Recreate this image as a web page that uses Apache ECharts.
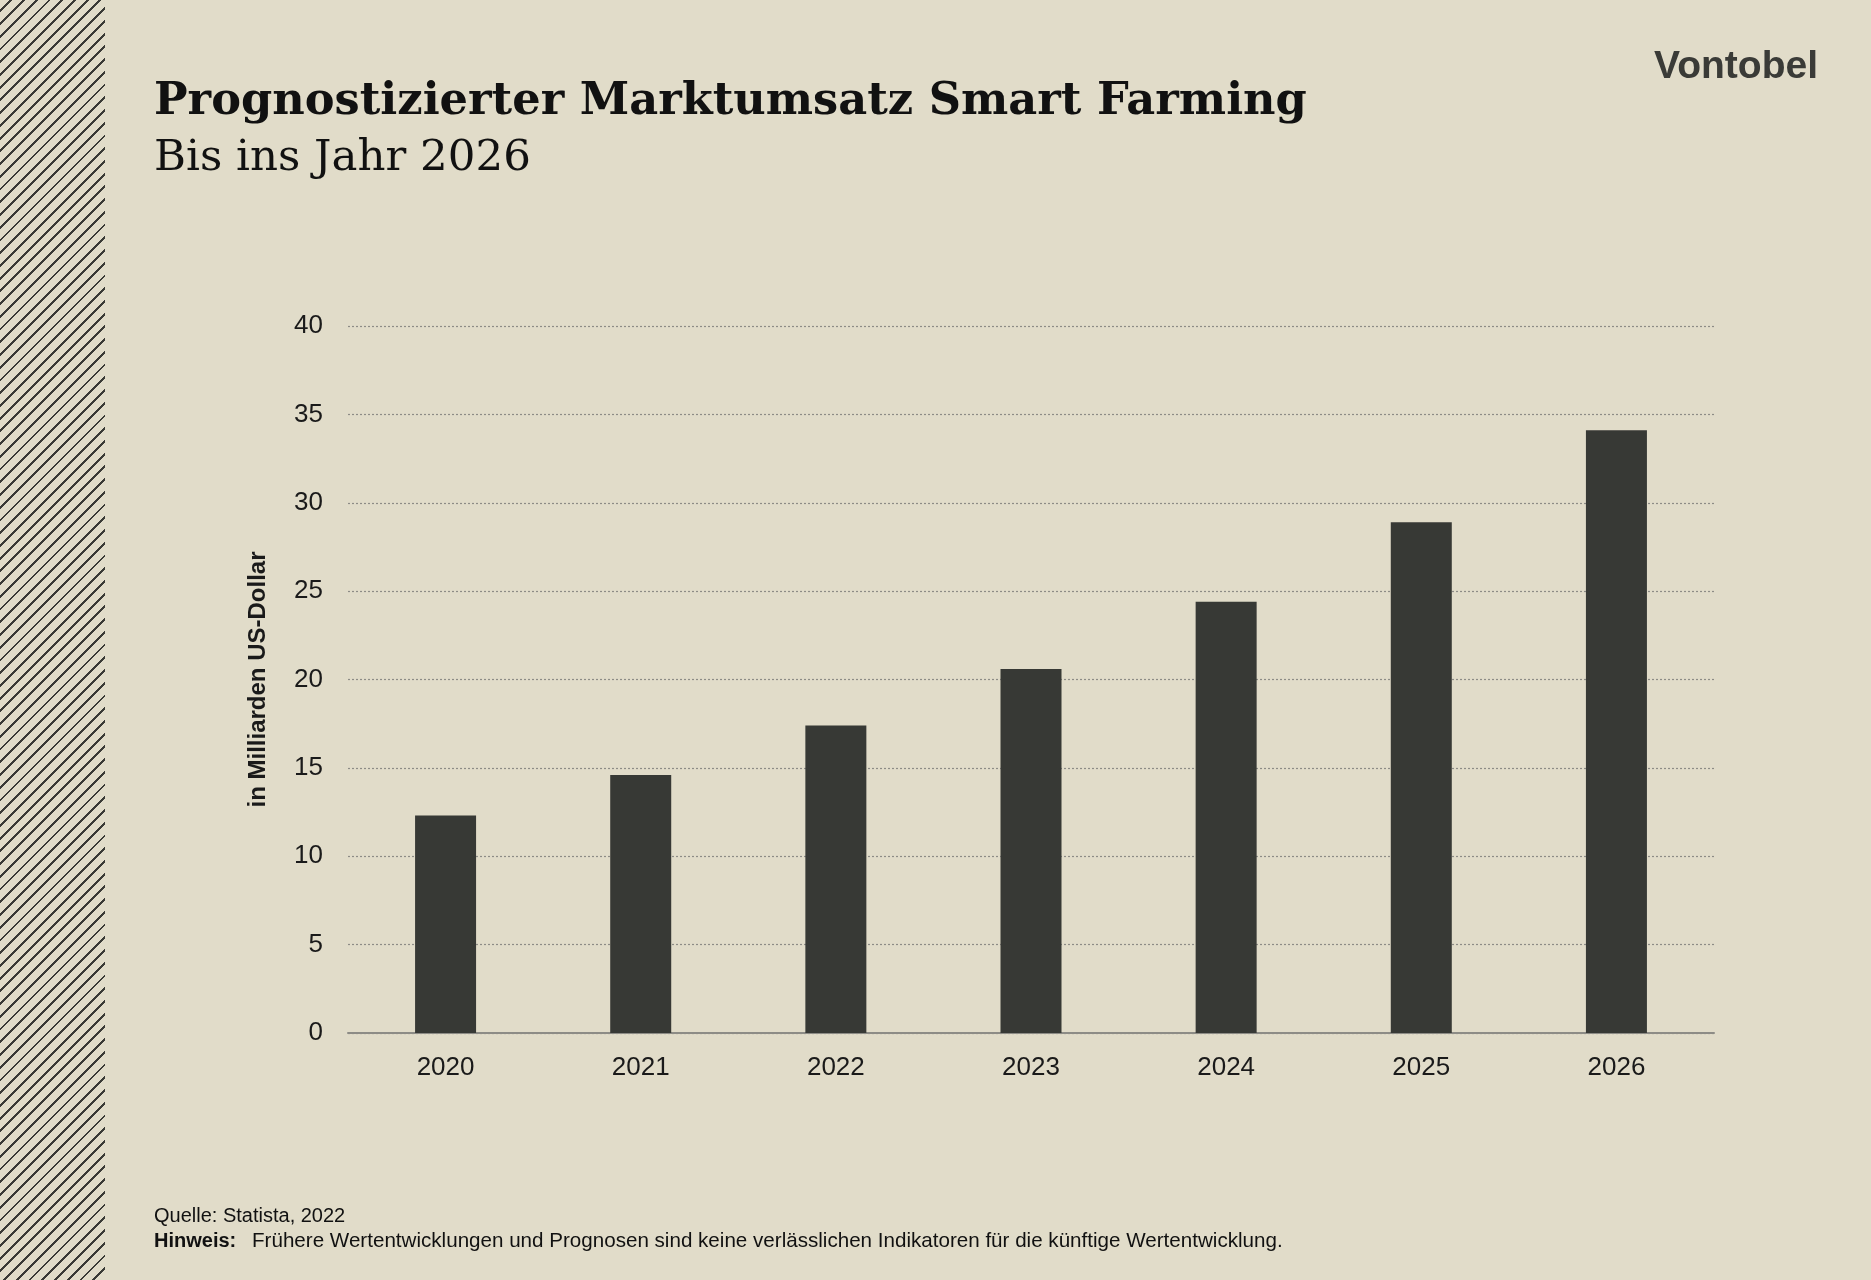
<!DOCTYPE html>
<html><head><meta charset="utf-8">
<script src="https://cdn.jsdelivr.net/npm/echarts@6/dist/echarts.min.js"></script>
<style>
html,body{margin:0;padding:0;width:1871px;height:1280px;background:#e1dcc9;overflow:hidden}
#stripes{position:absolute;left:0;top:0;width:105px;height:1280px;
background:repeating-linear-gradient(135deg,#e1dcc9 0px,#e1dcc9 7px,#3a3a36 7px,#3a3a36 9px)}
#c{position:absolute;left:0;top:0;width:1871px;height:1280px}
</style></head><body>
<div id="stripes"></div><div id="c"></div>
<script>
const categories=['2020','2021','2022','2023','2024','2025','2026'];
const values=[12.3,14.6,17.4,20.6,24.4,28.9,34.1];
const yTicks=[0,5,10,15,20,25,30,35,40];
const chart=echarts.init(document.getElementById('c'),null,{renderer:'canvas'});
chart.setOption({
  backgroundColor:'transparent',
  animation:false,
  grid:{left:348,right:157,top:326,bottom:247},
  xAxis:{type:'category',data:categories,
    axisLine:{lineStyle:{color:'#8d8c86',width:2}},axisTick:{show:false},
    axisLabel:{color:'#1a1a1a',fontSize:26,fontFamily:'Liberation Sans',margin:22}},
  yAxis:{type:'value',min:0,max:40,interval:5,
    name:'in Milliarden US-Dollar',nameLocation:'middle',nameGap:78,
    nameTextStyle:{color:'#1a1a1a',fontSize:24,fontWeight:'bold',fontFamily:'Liberation Sans'},
    axisLabel:{color:'#1a1a1a',fontSize:26,fontFamily:'Liberation Sans',margin:25,
      formatter:v=>yTicks.includes(v)?String(v):''},
    splitLine:{lineStyle:{color:'#8d8c86',type:[2,2],width:1.2}}},
  series:[{type:'bar',data:values,barWidth:61,itemStyle:{color:'#373935'}}],
  graphic:[
    {type:'text',left:154,top:80,style:{text:'Prognostizierter Marktumsatz Smart Farming',fill:'#111',
      font:'bold 44.7px "DejaVu Serif"'}},
    {type:'text',left:154,top:137,style:{text:'Bis ins Jahr 2026',fill:'#111',font:'43.5px "DejaVu Serif"'}},
    {type:'text',right:53,top:48,style:{text:'Vontobel',fill:'#3a3b37',font:'bold 39px "Liberation Sans"'}},
    {type:'text',left:154,top:1206,style:{text:'Quelle: Statista, 2022',fill:'#111',font:'20px "Liberation Sans"'}},
    {type:'text',left:154,top:1231,style:{text:'Hinweis:',fill:'#111',font:'bold 20px "Liberation Sans"'}},
    {type:'text',left:252,top:1231,style:{text:'Frühere Wertentwicklungen und Prognosen sind keine verlässlichen Indikatoren für die künftige Wertentwicklung.',fill:'#111',font:'20.6px "Liberation Sans"'}}
  ]
});
</script></body></html>
